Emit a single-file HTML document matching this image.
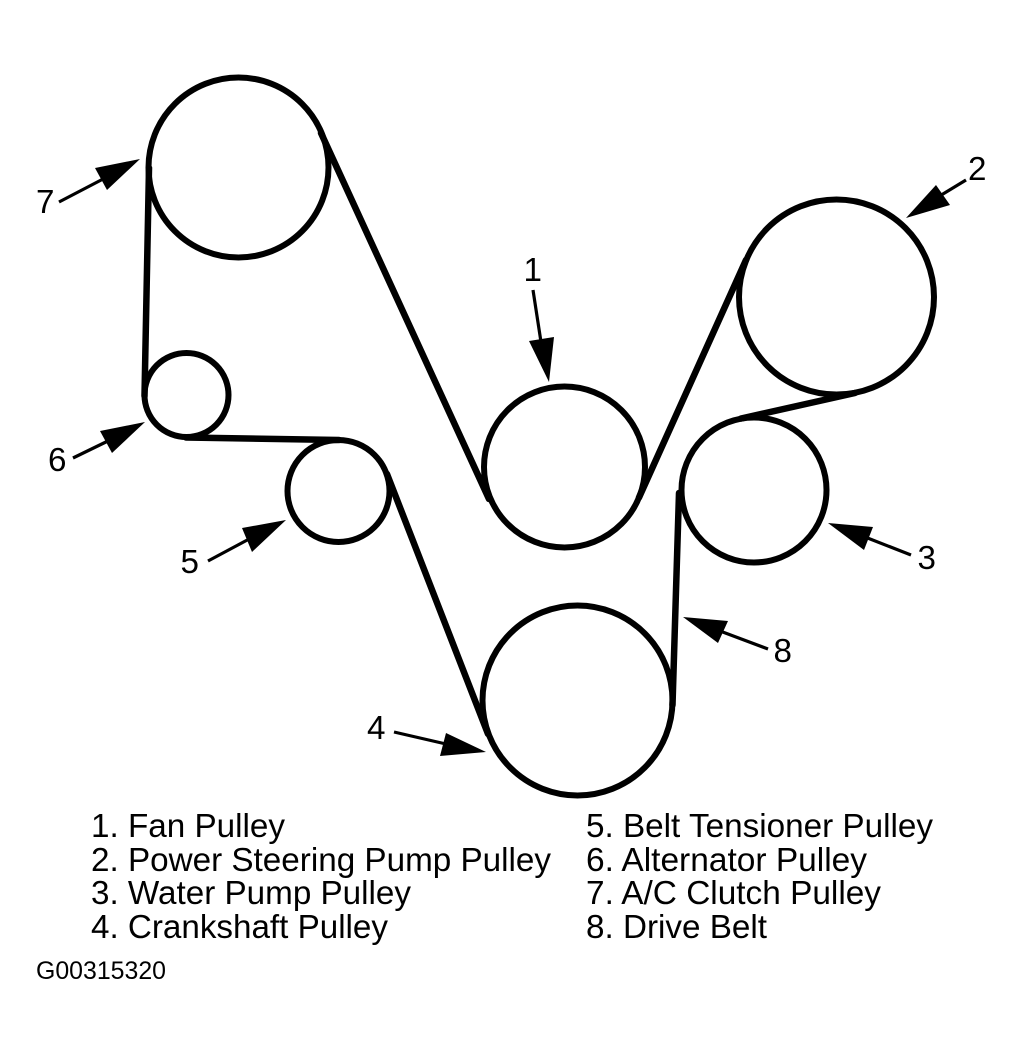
<!DOCTYPE html>
<html>
<head>
<meta charset="utf-8">
<style>
html,body{margin:0;padding:0;background:#fff;}
svg{display:block;}
text{font-family:"Liberation Sans",Arial,sans-serif;fill:#000;}
</style>
</head>
<body>
<svg width="1023" height="1054" viewBox="0 0 1023 1054" xmlns="http://www.w3.org/2000/svg">
<rect width="1023" height="1054" fill="#fff"/>
<g fill="none" stroke="#000" stroke-width="6">
<circle cx="238.5" cy="167.5" r="90"/>
<circle cx="836.5" cy="297" r="97.5"/>
<circle cx="564.5" cy="467" r="80.5"/>
<circle cx="754" cy="490" r="72.5"/>
<circle cx="577.5" cy="700.5" r="95"/>
<circle cx="338.5" cy="491" r="51"/>
<circle cx="186.5" cy="395" r="42"/>
</g>
<g fill="none" stroke="#000" stroke-width="6.5" stroke-linecap="round">
<line x1="149" y1="168" x2="144.5" y2="396"/>
<line x1="321" y1="133" x2="489" y2="499"/>
<line x1="639" y1="497.5" x2="746" y2="260"/>
<line x1="741" y1="418.5" x2="855" y2="393"/>
<line x1="679" y1="493" x2="672.5" y2="705"/>
<line x1="387" y1="474" x2="488" y2="734"/>
<line x1="186" y1="437.5" x2="339" y2="440"/>
</g>
<g stroke="#000" stroke-width="3.2">
<line x1="59" y1="202" x2="105" y2="178"/>
<line x1="966" y1="180" x2="938" y2="197"/>
<line x1="533" y1="290" x2="541" y2="342"/>
<line x1="911" y1="555" x2="865" y2="537"/>
<line x1="394" y1="732" x2="446" y2="744"/>
<line x1="208" y1="561" x2="251" y2="538"/>
<line x1="73" y1="458" x2="110" y2="440"/>
<line x1="768" y1="649" x2="720" y2="631"/>
</g>
<g fill="#000">
<polygon points="140,159 95,168 107,190"/>
<polygon points="906,218 936,185 950,205"/>
<polygon points="549,382 529,341 554,337"/>
<polygon points="828,523 873,527 864,550"/>
<polygon points="486,752 446,733 440,756"/>
<polygon points="286,520 242,528 252,552"/>
<polygon points="145,422 100,431 112,453"/>
<polygon points="683,617 728,621 718,643"/>
</g>
<g font-size="33.2">
<text x="523.5" y="281">1</text>
<text x="968" y="180">2</text>
<text x="917.5" y="569">3</text>
<text x="367" y="739">4</text>
<text x="180.5" y="573">5</text>
<text x="48" y="471">6</text>
<text x="36" y="213">7</text>
<text x="773.5" y="662">8</text>
</g>
<g font-size="33.2">
<text x="91" y="837" textLength="194" lengthAdjust="spacingAndGlyphs">1. Fan Pulley</text>
<text x="91" y="871" textLength="460" lengthAdjust="spacingAndGlyphs">2. Power Steering Pump Pulley</text>
<text x="91" y="904" textLength="320" lengthAdjust="spacingAndGlyphs">3. Water Pump Pulley</text>
<text x="91" y="938" textLength="297" lengthAdjust="spacingAndGlyphs">4. Crankshaft Pulley</text>
<text x="586" y="837" textLength="347" lengthAdjust="spacingAndGlyphs">5. Belt Tensioner Pulley</text>
<text x="586" y="871" textLength="281" lengthAdjust="spacingAndGlyphs">6. Alternator Pulley</text>
<text x="586" y="904" textLength="295" lengthAdjust="spacingAndGlyphs">7. A/C Clutch Pulley</text>
<text x="586" y="938" textLength="181" lengthAdjust="spacingAndGlyphs">8. Drive Belt</text>
</g>
<text x="36" y="979" font-size="25" textLength="130" lengthAdjust="spacingAndGlyphs">G00315320</text>
</svg>
</body>
</html>
